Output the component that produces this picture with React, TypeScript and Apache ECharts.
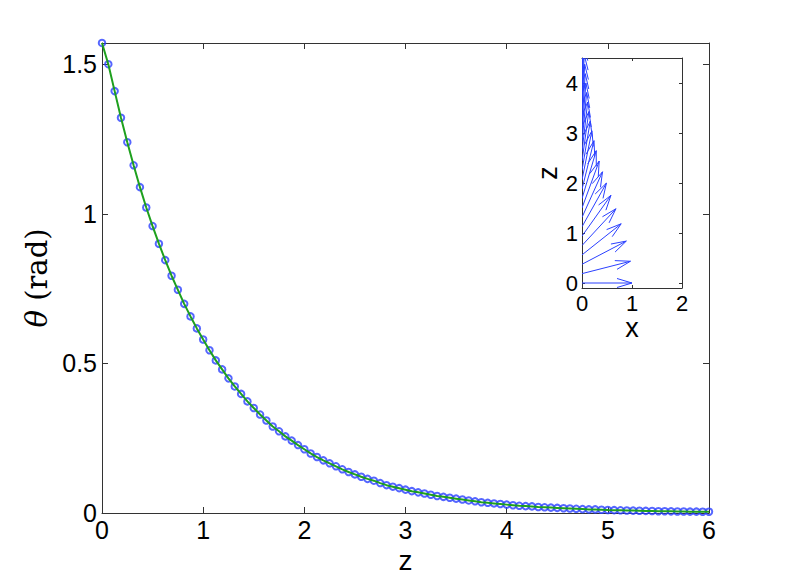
import React, { useEffect, useRef } from "react";
import * as echarts from "echarts";

// z positions of the sampled points (main plot)
const zValues = [
  0, 0.0625, 0.125, 0.1875, 0.25, 0.3125, 0.375, 0.4375, 0.5, 0.5625,
  0.625, 0.6875, 0.75, 0.8125, 0.875, 0.9375, 1, 1.0625, 1.125, 1.1875,
  1.25, 1.3125, 1.375, 1.4375, 1.5, 1.5625, 1.625, 1.6875, 1.75, 1.8125,
  1.875, 1.9375, 2, 2.0625, 2.125, 2.1875, 2.25, 2.3125, 2.375, 2.4375,
  2.5, 2.5625, 2.625, 2.6875, 2.75, 2.8125, 2.875, 2.9375, 3, 3.0625,
  3.125, 3.1875, 3.25, 3.3125, 3.375, 3.4375, 3.5, 3.5625, 3.625, 3.6875,
  3.75, 3.8125, 3.875, 3.9375, 4, 4.0625, 4.125, 4.1875, 4.25, 4.3125,
  4.375, 4.4375, 4.5, 4.5625, 4.625, 4.6875, 4.75, 4.8125, 4.875, 4.9375,
  5, 5.0625, 5.125, 5.1875, 5.25, 5.3125, 5.375, 5.4375, 5.5, 5.5625,
  5.625, 5.6875, 5.75, 5.8125, 5.875, 5.9375, 6,
];

// theta (rad)
const thetaValues = [
  1.571, 1.5, 1.41, 1.321, 1.239, 1.162, 1.089, 1.021, 0.959, 0.9,
  0.845, 0.793, 0.746, 0.699, 0.657, 0.617, 0.58, 0.544, 0.51, 0.48,
  0.45, 0.423, 0.398, 0.373, 0.351, 0.329, 0.309, 0.289, 0.273, 0.256,
  0.242, 0.227, 0.213, 0.199, 0.187, 0.176, 0.166, 0.156, 0.146, 0.137,
  0.129, 0.121, 0.114, 0.108, 0.1, 0.093, 0.088, 0.083, 0.078, 0.073,
  0.069, 0.065, 0.061, 0.057, 0.054, 0.051, 0.048, 0.045, 0.042, 0.039,
  0.036, 0.034, 0.032, 0.03, 0.028, 0.026, 0.024, 0.023, 0.022, 0.02,
  0.019, 0.018, 0.017, 0.016, 0.015, 0.014, 0.013, 0.012, 0.012, 0.011,
  0.01, 0.0095, 0.009, 0.0085, 0.008, 0.0075, 0.007, 0.0065, 0.006, 0.006,
  0.0055, 0.005, 0.005, 0.0045, 0.0045, 0.004, 0.004,
];

const mainXTicks = [0, 1, 2, 3, 4, 5, 6];
const mainYTicks = [0, 0.5, 1, 1.5];
const insetXTicks = [0, 1, 2];
const insetZTicks = [0, 1, 2, 3, 4];

const SANS = "Liberation Sans, Arial, Helvetica, sans-serif";
const SERIF = "DejaVu Serif, Liberation Serif, serif";
const AXIS_COLOR = "#333";
const BLUE = "#2a40ff";
const GREEN = "#1ea01e";

export default function App() {
  const ref = useRef<HTMLDivElement>(null);

  useEffect(() => {
    if (!ref.current) return;
    const chart = echarts.init(ref.current, null, { renderer: "svg" });

    const points = zValues.map((z, i) => [z, thetaValues[i]]);
    const arrowPoints = points.filter((p, i) => i % 3 === 0 && p[0] <= 4.5 + 1e-9);

    const axisBase = (gridIndex: number) => ({
      gridIndex,
      type: "value",
      axisLine: { show: true, onZero: false, lineStyle: { color: AXIS_COLOR, width: 1 } },
      splitLine: { show: false },
    });

    const option: any = {
      animation: false,
      backgroundColor: "#fff",
      grid: [
        { left: 102, top: 43, width: 607, height: 470, containLabel: false, outerBoundsMode: "none" },
        {
          left: 582, top: 58, width: 100, height: 230, containLabel: false, outerBoundsMode: "none",
          show: true, backgroundColor: "#fff", borderWidth: 0,
        },
      ],
      xAxis: [
        {
          ...axisBase(0),
          min: 0, max: 6,
          axisTick: { show: true, inside: true, length: 6, lineStyle: { color: AXIS_COLOR }, customValues: mainXTicks },
          axisLabel: { customValues: mainXTicks, color: "#000", fontSize: 25, fontFamily: SANS, margin: 4 },
          name: "z", nameLocation: "middle", nameGap: 25,
          nameTextStyle: { color: "#000", fontSize: 28, fontFamily: SANS },
        },
        {
          ...axisBase(0),
          position: "top", min: 0, max: 6,
          axisTick: { show: true, inside: true, length: 6, lineStyle: { color: AXIS_COLOR }, customValues: mainXTicks },
          axisLabel: { show: false },
        },
        {
          ...axisBase(1),
          min: 0, max: 2,
          axisTick: { show: true, inside: true, length: 3, lineStyle: { color: AXIS_COLOR }, customValues: insetXTicks },
          axisLabel: { customValues: insetXTicks, color: "#000", fontSize: 22, fontFamily: SANS, margin: 4 },
          name: "x", nameLocation: "middle", nameGap: 24,
          nameTextStyle: { color: "#000", fontSize: 27, fontFamily: SANS },
        },
        {
          ...axisBase(1),
          position: "top", min: 0, max: 2,
          axisTick: { show: true, inside: true, length: 3, lineStyle: { color: AXIS_COLOR }, customValues: insetXTicks },
          axisLabel: { show: false },
        },
      ],
      yAxis: [
        {
          ...axisBase(0),
          min: 0, max: 1.5708,
          axisTick: { show: true, inside: true, length: 6, lineStyle: { color: AXIS_COLOR }, customValues: mainYTicks },
          axisLabel: { customValues: mainYTicks, color: "#000", fontSize: 25, fontFamily: SANS, margin: 5 },
          name: "{i|θ} (rad)", nameLocation: "middle", nameGap: 46, nameRotate: 90,
          nameTextStyle: {
            color: "#000", fontSize: 29, fontFamily: SERIF,
            rich: { i: { fontStyle: "italic", fontSize: 29, fontFamily: SERIF, color: "#000" } },
          },
        },
        {
          ...axisBase(0),
          position: "right", min: 0, max: 1.5708,
          axisTick: { show: true, inside: true, length: 6, lineStyle: { color: AXIS_COLOR }, customValues: mainYTicks },
          axisLabel: { show: false },
        },
        {
          ...axisBase(1),
          min: -0.1, max: 4.5,
          axisTick: { show: true, inside: true, length: 3, lineStyle: { color: AXIS_COLOR }, customValues: insetZTicks },
          axisLabel: { customValues: insetZTicks, color: "#000", fontSize: 22, fontFamily: SANS, margin: 4 },
          name: "z", nameLocation: "middle", nameGap: 20, nameRotate: 90,
          nameTextStyle: { color: "#000", fontSize: 27, fontFamily: SANS },
        },
        {
          ...axisBase(1),
          position: "right", min: -0.1, max: 4.5,
          axisTick: { show: true, inside: true, length: 3, lineStyle: { color: AXIS_COLOR }, customValues: insetZTicks },
          axisLabel: { show: false },
        },
      ],
      series: [
        {
          type: "scatter",
          xAxisIndex: 0, yAxisIndex: 0,
          data: points,
          symbol: "circle",
          symbolSize: 6.5,
          itemStyle: { color: "rgba(0,0,0,0)", borderColor: BLUE, borderWidth: 2 },
          z: 2,
        },
        {
          type: "line",
          xAxisIndex: 0, yAxisIndex: 0,
          data: points,
          showSymbol: false,
          symbol: "none",
          lineStyle: { color: GREEN, width: 2 },
          z: 3,
        },
        {
          type: "custom",
          xAxisIndex: 2, yAxisIndex: 2,
          clip: true,
          data: arrowPoints,
          z: 4,
          renderItem: (params: any, api: any) => {
            const z = api.value(0);
            const th = api.value(1);
            const s = api.coord([0, z]);
            const e = api.coord([Math.sin(th), z + Math.cos(th)]);
            const dx = e[0] - s[0];
            const dy = e[1] - s[1];
            const a = 0.3;
            const b = 0.3;
            const h1 = [e[0] - a * (dx - b * dy), e[1] - a * (dy + b * dx)];
            const h2 = [e[0] - a * (dx + b * dy), e[1] - a * (dy - b * dx)];
            const style = { stroke: BLUE, lineWidth: 1, fill: "none" };
            return {
              type: "group",
              children: [
                { type: "line", shape: { x1: s[0], y1: s[1], x2: e[0], y2: e[1] }, style },
                { type: "polyline", shape: { points: [h1, e, h2] }, style },
              ],
            };
          },
        },
      ],
    };

    chart.setOption(option);
    return () => chart.dispose();
  }, []);

  return (
    <div
      ref={ref}
      style={{ position: "fixed", left: 0, top: 0, width: 789, height: 576, background: "#fff" }}
    />
  );
}
